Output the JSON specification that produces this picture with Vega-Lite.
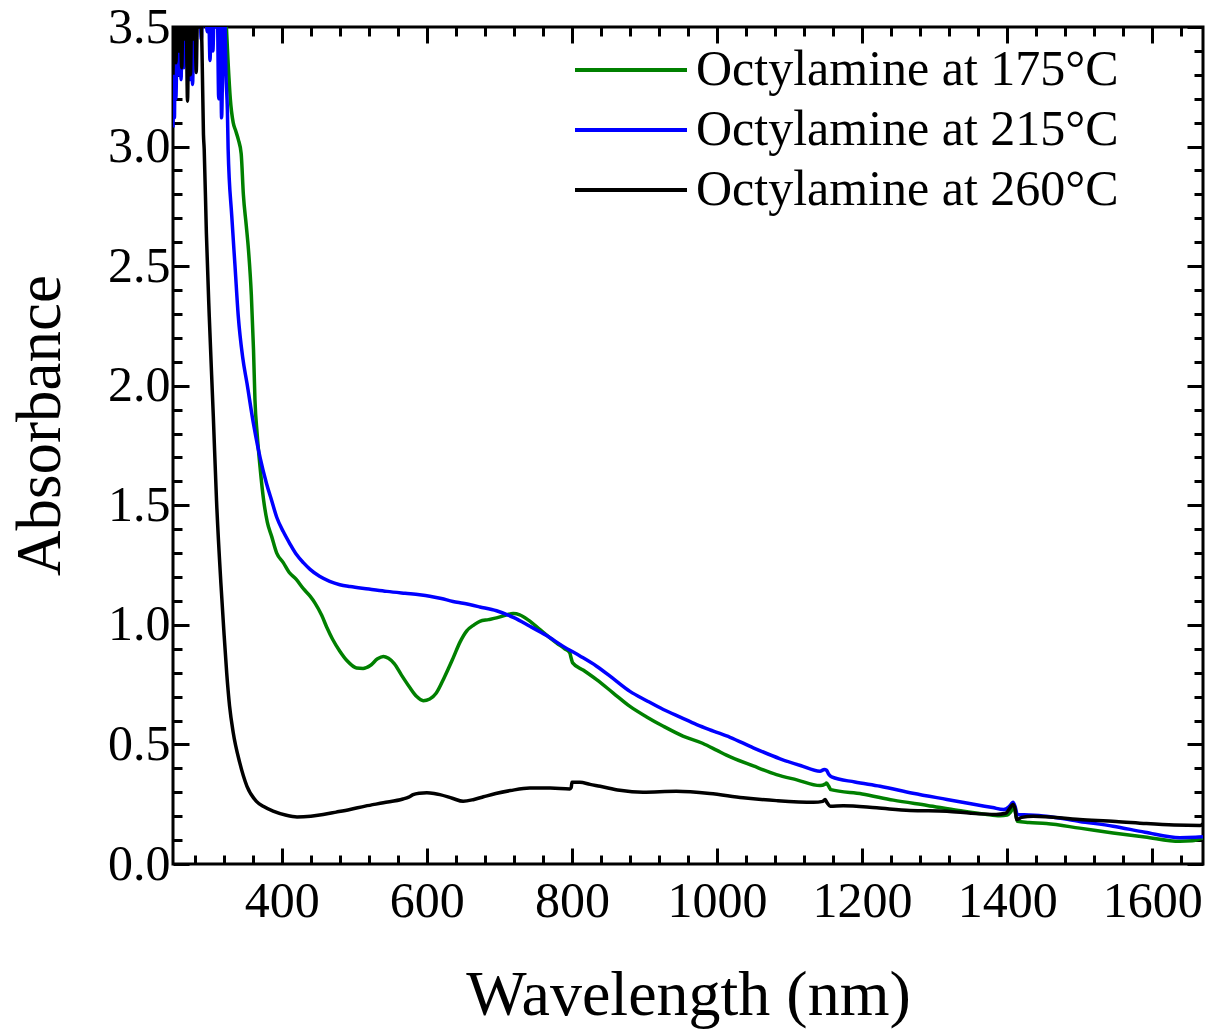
{
  "$schema": "https://vega.github.io/schema/vega-lite/v6.json",
  "autosize": {"type": "none"},
  "padding": {"left": 173, "top": 27, "right": 9, "bottom": 165},
  "width": 1030,
  "height": 837,
  "background": "white",
  "config": {
    "font": "Liberation Serif",
    "view": {"stroke": "black", "strokeWidth": 3},
    "axis": {"grid": false, "domain": false, "tickColor": "black", "tickWidth": 3, "labelColor": "black", "titleColor": "black", "labelFont": "Liberation Serif", "titleFont": "Liberation Serif", "titleFontWeight": "normal", "labelOverlap": false, "labelFlush": false, "labelBound": false}
  },
  "data": {
    "values": [
      {"s": "Octylamine at 175°C", "nm": 322, "a": 3.6},
      {"s": "Octylamine at 175°C", "nm": 326, "a": 3.35},
      {"s": "Octylamine at 175°C", "nm": 329, "a": 3.2},
      {"s": "Octylamine at 175°C", "nm": 333, "a": 3.1},
      {"s": "Octylamine at 175°C", "nm": 336, "a": 3.07},
      {"s": "Octylamine at 175°C", "nm": 340, "a": 3.03},
      {"s": "Octylamine at 175°C", "nm": 344, "a": 2.97},
      {"s": "Octylamine at 175°C", "nm": 347, "a": 2.8},
      {"s": "Octylamine at 175°C", "nm": 351, "a": 2.67},
      {"s": "Octylamine at 175°C", "nm": 354, "a": 2.57},
      {"s": "Octylamine at 175°C", "nm": 358, "a": 2.38},
      {"s": "Octylamine at 175°C", "nm": 361, "a": 2.15},
      {"s": "Octylamine at 175°C", "nm": 363, "a": 1.94},
      {"s": "Octylamine at 175°C", "nm": 366, "a": 1.8},
      {"s": "Octylamine at 175°C", "nm": 370, "a": 1.66},
      {"s": "Octylamine at 175°C", "nm": 375, "a": 1.52},
      {"s": "Octylamine at 175°C", "nm": 380, "a": 1.43},
      {"s": "Octylamine at 175°C", "nm": 386, "a": 1.37},
      {"s": "Octylamine at 175°C", "nm": 393, "a": 1.3},
      {"s": "Octylamine at 175°C", "nm": 402, "a": 1.26},
      {"s": "Octylamine at 175°C", "nm": 410, "a": 1.22},
      {"s": "Octylamine at 175°C", "nm": 420, "a": 1.19},
      {"s": "Octylamine at 175°C", "nm": 430, "a": 1.15},
      {"s": "Octylamine at 175°C", "nm": 439, "a": 1.12},
      {"s": "Octylamine at 175°C", "nm": 446, "a": 1.09},
      {"s": "Octylamine at 175°C", "nm": 455, "a": 1.04},
      {"s": "Octylamine at 175°C", "nm": 462, "a": 0.99},
      {"s": "Octylamine at 175°C", "nm": 470, "a": 0.94},
      {"s": "Octylamine at 175°C", "nm": 480, "a": 0.89},
      {"s": "Octylamine at 175°C", "nm": 490, "a": 0.85},
      {"s": "Octylamine at 175°C", "nm": 503, "a": 0.82},
      {"s": "Octylamine at 175°C", "nm": 512, "a": 0.818},
      {"s": "Octylamine at 175°C", "nm": 522, "a": 0.83},
      {"s": "Octylamine at 175°C", "nm": 532, "a": 0.858},
      {"s": "Octylamine at 175°C", "nm": 540, "a": 0.868},
      {"s": "Octylamine at 175°C", "nm": 547, "a": 0.86},
      {"s": "Octylamine at 175°C", "nm": 555, "a": 0.838},
      {"s": "Octylamine at 175°C", "nm": 565, "a": 0.79},
      {"s": "Octylamine at 175°C", "nm": 576, "a": 0.74},
      {"s": "Octylamine at 175°C", "nm": 586, "a": 0.7},
      {"s": "Octylamine at 175°C", "nm": 595, "a": 0.683},
      {"s": "Octylamine at 175°C", "nm": 604, "a": 0.69},
      {"s": "Octylamine at 175°C", "nm": 613, "a": 0.715},
      {"s": "Octylamine at 175°C", "nm": 624, "a": 0.78},
      {"s": "Octylamine at 175°C", "nm": 636, "a": 0.86},
      {"s": "Octylamine at 175°C", "nm": 646, "a": 0.93},
      {"s": "Octylamine at 175°C", "nm": 655, "a": 0.975},
      {"s": "Octylamine at 175°C", "nm": 665, "a": 1.0},
      {"s": "Octylamine at 175°C", "nm": 673, "a": 1.015},
      {"s": "Octylamine at 175°C", "nm": 685, "a": 1.022},
      {"s": "Octylamine at 175°C", "nm": 696, "a": 1.029},
      {"s": "Octylamine at 175°C", "nm": 708, "a": 1.04},
      {"s": "Octylamine at 175°C", "nm": 719, "a": 1.047},
      {"s": "Octylamine at 175°C", "nm": 728, "a": 1.042},
      {"s": "Octylamine at 175°C", "nm": 740, "a": 1.02},
      {"s": "Octylamine at 175°C", "nm": 756, "a": 0.98},
      {"s": "Octylamine at 175°C", "nm": 768, "a": 0.95},
      {"s": "Octylamine at 175°C", "nm": 779, "a": 0.924},
      {"s": "Octylamine at 175°C", "nm": 790, "a": 0.9},
      {"s": "Octylamine at 175°C", "nm": 797, "a": 0.883},
      {"s": "Octylamine at 175°C", "nm": 799, "a": 0.86},
      {"s": "Octylamine at 175°C", "nm": 801, "a": 0.841},
      {"s": "Octylamine at 175°C", "nm": 816, "a": 0.81},
      {"s": "Octylamine at 175°C", "nm": 834, "a": 0.771},
      {"s": "Octylamine at 175°C", "nm": 857, "a": 0.715},
      {"s": "Octylamine at 175°C", "nm": 880, "a": 0.659},
      {"s": "Octylamine at 175°C", "nm": 903, "a": 0.615},
      {"s": "Octylamine at 175°C", "nm": 926, "a": 0.576},
      {"s": "Octylamine at 175°C", "nm": 953, "a": 0.535},
      {"s": "Octylamine at 175°C", "nm": 980, "a": 0.505},
      {"s": "Octylamine at 175°C", "nm": 1000, "a": 0.475},
      {"s": "Octylamine at 175°C", "nm": 1013, "a": 0.455},
      {"s": "Octylamine at 175°C", "nm": 1050, "a": 0.41},
      {"s": "Octylamine at 175°C", "nm": 1082, "a": 0.374},
      {"s": "Octylamine at 175°C", "nm": 1110, "a": 0.352},
      {"s": "Octylamine at 175°C", "nm": 1142, "a": 0.328},
      {"s": "Octylamine at 175°C", "nm": 1149, "a": 0.334},
      {"s": "Octylamine at 175°C", "nm": 1151, "a": 0.339},
      {"s": "Octylamine at 175°C", "nm": 1154, "a": 0.325},
      {"s": "Octylamine at 175°C", "nm": 1157, "a": 0.311},
      {"s": "Octylamine at 175°C", "nm": 1200, "a": 0.293},
      {"s": "Octylamine at 175°C", "nm": 1243, "a": 0.267},
      {"s": "Octylamine at 175°C", "nm": 1290, "a": 0.245},
      {"s": "Octylamine at 175°C", "nm": 1333, "a": 0.224},
      {"s": "Octylamine at 175°C", "nm": 1370, "a": 0.208},
      {"s": "Octylamine at 175°C", "nm": 1390, "a": 0.202},
      {"s": "Octylamine at 175°C", "nm": 1400, "a": 0.205},
      {"s": "Octylamine at 175°C", "nm": 1405, "a": 0.218},
      {"s": "Octylamine at 175°C", "nm": 1409, "a": 0.235},
      {"s": "Octylamine at 175°C", "nm": 1411, "a": 0.22},
      {"s": "Octylamine at 175°C", "nm": 1414, "a": 0.179},
      {"s": "Octylamine at 175°C", "nm": 1430, "a": 0.174},
      {"s": "Octylamine at 175°C", "nm": 1454, "a": 0.169},
      {"s": "Octylamine at 175°C", "nm": 1500, "a": 0.15},
      {"s": "Octylamine at 175°C", "nm": 1546, "a": 0.13},
      {"s": "Octylamine at 175°C", "nm": 1590, "a": 0.113},
      {"s": "Octylamine at 175°C", "nm": 1638, "a": 0.095},
      {"s": "Octylamine at 175°C", "nm": 1655, "a": 0.097},
      {"s": "Octylamine at 175°C", "nm": 1670, "a": 0.109},

      {"s": "Octylamine at 215°C", "nm": 250, "a": 3.08},
      {"s": "Octylamine at 215°C", "nm": 251, "a": 3.45},
      {"s": "Octylamine at 215°C", "nm": 252, "a": 3.12},
      {"s": "Octylamine at 215°C", "nm": 253, "a": 3.6},
      {"s": "Octylamine at 215°C", "nm": 254, "a": 3.2},
      {"s": "Octylamine at 215°C", "nm": 256, "a": 3.55},
      {"s": "Octylamine at 215°C", "nm": 258, "a": 3.3},
      {"s": "Octylamine at 215°C", "nm": 260, "a": 3.6},
      {"s": "Octylamine at 215°C", "nm": 261, "a": 3.28},
      {"s": "Octylamine at 215°C", "nm": 263, "a": 3.55},
      {"s": "Octylamine at 215°C", "nm": 265, "a": 3.33},
      {"s": "Octylamine at 215°C", "nm": 267, "a": 3.6},
      {"s": "Octylamine at 215°C", "nm": 269, "a": 3.45},
      {"s": "Octylamine at 215°C", "nm": 271, "a": 3.6},
      {"s": "Octylamine at 215°C", "nm": 273, "a": 3.28},
      {"s": "Octylamine at 215°C", "nm": 275, "a": 3.55},
      {"s": "Octylamine at 215°C", "nm": 277, "a": 3.26},
      {"s": "Octylamine at 215°C", "nm": 279, "a": 3.6},
      {"s": "Octylamine at 215°C", "nm": 281, "a": 3.4},
      {"s": "Octylamine at 215°C", "nm": 283, "a": 3.6},
      {"s": "Octylamine at 215°C", "nm": 285, "a": 3.5},
      {"s": "Octylamine at 215°C", "nm": 287, "a": 3.6},
      {"s": "Octylamine at 215°C", "nm": 289, "a": 3.45},
      {"s": "Octylamine at 215°C", "nm": 291, "a": 3.6},
      {"s": "Octylamine at 215°C", "nm": 293, "a": 3.55},
      {"s": "Octylamine at 215°C", "nm": 295, "a": 3.6},
      {"s": "Octylamine at 215°C", "nm": 297, "a": 3.48},
      {"s": "Octylamine at 215°C", "nm": 299, "a": 3.6},
      {"s": "Octylamine at 215°C", "nm": 301, "a": 3.36},
      {"s": "Octylamine at 215°C", "nm": 303, "a": 3.6},
      {"s": "Octylamine at 215°C", "nm": 305, "a": 3.4},
      {"s": "Octylamine at 215°C", "nm": 307, "a": 3.6},
      {"s": "Octylamine at 215°C", "nm": 309, "a": 3.5},
      {"s": "Octylamine at 215°C", "nm": 311, "a": 3.6},
      {"s": "Octylamine at 215°C", "nm": 313, "a": 3.2},
      {"s": "Octylamine at 215°C", "nm": 315, "a": 3.6},
      {"s": "Octylamine at 215°C", "nm": 317, "a": 3.12},
      {"s": "Octylamine at 215°C", "nm": 319, "a": 3.45},
      {"s": "Octylamine at 215°C", "nm": 321, "a": 3.6},
      {"s": "Octylamine at 215°C", "nm": 323, "a": 3.3},
      {"s": "Octylamine at 215°C", "nm": 325, "a": 3.15},
      {"s": "Octylamine at 215°C", "nm": 326, "a": 2.99},
      {"s": "Octylamine at 215°C", "nm": 331, "a": 2.71},
      {"s": "Octylamine at 215°C", "nm": 335.5, "a": 2.5},
      {"s": "Octylamine at 215°C", "nm": 340, "a": 2.29},
      {"s": "Octylamine at 215°C", "nm": 346, "a": 2.12},
      {"s": "Octylamine at 215°C", "nm": 352, "a": 2.01},
      {"s": "Octylamine at 215°C", "nm": 361, "a": 1.84},
      {"s": "Octylamine at 215°C", "nm": 370, "a": 1.7},
      {"s": "Octylamine at 215°C", "nm": 379, "a": 1.59},
      {"s": "Octylamine at 215°C", "nm": 386, "a": 1.52},
      {"s": "Octylamine at 215°C", "nm": 393, "a": 1.45},
      {"s": "Octylamine at 215°C", "nm": 402, "a": 1.39},
      {"s": "Octylamine at 215°C", "nm": 411, "a": 1.34},
      {"s": "Octylamine at 215°C", "nm": 420, "a": 1.295},
      {"s": "Octylamine at 215°C", "nm": 430, "a": 1.259},
      {"s": "Octylamine at 215°C", "nm": 439, "a": 1.232},
      {"s": "Octylamine at 215°C", "nm": 452, "a": 1.203},
      {"s": "Octylamine at 215°C", "nm": 466, "a": 1.182},
      {"s": "Octylamine at 215°C", "nm": 480, "a": 1.168},
      {"s": "Octylamine at 215°C", "nm": 494, "a": 1.16},
      {"s": "Octylamine at 215°C", "nm": 520, "a": 1.15},
      {"s": "Octylamine at 215°C", "nm": 545, "a": 1.14},
      {"s": "Octylamine at 215°C", "nm": 570, "a": 1.132},
      {"s": "Octylamine at 215°C", "nm": 590, "a": 1.126},
      {"s": "Octylamine at 215°C", "nm": 604, "a": 1.12},
      {"s": "Octylamine at 215°C", "nm": 620, "a": 1.11},
      {"s": "Octylamine at 215°C", "nm": 636, "a": 1.098},
      {"s": "Octylamine at 215°C", "nm": 650, "a": 1.09},
      {"s": "Octylamine at 215°C", "nm": 673, "a": 1.075},
      {"s": "Octylamine at 215°C", "nm": 696, "a": 1.059},
      {"s": "Octylamine at 215°C", "nm": 720, "a": 1.03},
      {"s": "Octylamine at 215°C", "nm": 742, "a": 0.994},
      {"s": "Octylamine at 215°C", "nm": 765, "a": 0.955},
      {"s": "Octylamine at 215°C", "nm": 788, "a": 0.91},
      {"s": "Octylamine at 215°C", "nm": 811, "a": 0.87},
      {"s": "Octylamine at 215°C", "nm": 834, "a": 0.827},
      {"s": "Octylamine at 215°C", "nm": 857, "a": 0.775},
      {"s": "Octylamine at 215°C", "nm": 880, "a": 0.722},
      {"s": "Octylamine at 215°C", "nm": 903, "a": 0.683},
      {"s": "Octylamine at 215°C", "nm": 926, "a": 0.646},
      {"s": "Octylamine at 215°C", "nm": 950, "a": 0.613},
      {"s": "Octylamine at 215°C", "nm": 972, "a": 0.583},
      {"s": "Octylamine at 215°C", "nm": 995, "a": 0.556},
      {"s": "Octylamine at 215°C", "nm": 1018, "a": 0.53},
      {"s": "Octylamine at 215°C", "nm": 1050, "a": 0.486},
      {"s": "Octylamine at 215°C", "nm": 1087, "a": 0.44},
      {"s": "Octylamine at 215°C", "nm": 1115, "a": 0.412},
      {"s": "Octylamine at 215°C", "nm": 1142, "a": 0.388},
      {"s": "Octylamine at 215°C", "nm": 1148, "a": 0.395},
      {"s": "Octylamine at 215°C", "nm": 1151, "a": 0.392},
      {"s": "Octylamine at 215°C", "nm": 1154, "a": 0.375},
      {"s": "Octylamine at 215°C", "nm": 1158, "a": 0.364},
      {"s": "Octylamine at 215°C", "nm": 1190, "a": 0.343},
      {"s": "Octylamine at 215°C", "nm": 1225, "a": 0.325},
      {"s": "Octylamine at 215°C", "nm": 1270, "a": 0.296},
      {"s": "Octylamine at 215°C", "nm": 1317, "a": 0.27},
      {"s": "Octylamine at 215°C", "nm": 1350, "a": 0.252},
      {"s": "Octylamine at 215°C", "nm": 1380, "a": 0.236},
      {"s": "Octylamine at 215°C", "nm": 1395, "a": 0.228},
      {"s": "Octylamine at 215°C", "nm": 1402, "a": 0.238},
      {"s": "Octylamine at 215°C", "nm": 1406, "a": 0.252},
      {"s": "Octylamine at 215°C", "nm": 1408, "a": 0.258},
      {"s": "Octylamine at 215°C", "nm": 1411, "a": 0.24},
      {"s": "Octylamine at 215°C", "nm": 1414, "a": 0.207},
      {"s": "Octylamine at 215°C", "nm": 1430, "a": 0.205},
      {"s": "Octylamine at 215°C", "nm": 1454, "a": 0.2},
      {"s": "Octylamine at 215°C", "nm": 1500, "a": 0.178},
      {"s": "Octylamine at 215°C", "nm": 1546, "a": 0.158},
      {"s": "Octylamine at 215°C", "nm": 1590, "a": 0.133},
      {"s": "Octylamine at 215°C", "nm": 1638, "a": 0.11},
      {"s": "Octylamine at 215°C", "nm": 1660, "a": 0.112},
      {"s": "Octylamine at 215°C", "nm": 1670, "a": 0.114},

      {"s": "Octylamine at 260°C", "nm": 250, "a": 3.3},
      {"s": "Octylamine at 260°C", "nm": 252, "a": 3.6},
      {"s": "Octylamine at 260°C", "nm": 254, "a": 3.35},
      {"s": "Octylamine at 260°C", "nm": 256, "a": 3.6},
      {"s": "Octylamine at 260°C", "nm": 258, "a": 3.4},
      {"s": "Octylamine at 260°C", "nm": 260, "a": 3.6},
      {"s": "Octylamine at 260°C", "nm": 262, "a": 3.33},
      {"s": "Octylamine at 260°C", "nm": 264, "a": 3.6},
      {"s": "Octylamine at 260°C", "nm": 266, "a": 3.45},
      {"s": "Octylamine at 260°C", "nm": 268, "a": 3.6},
      {"s": "Octylamine at 260°C", "nm": 270, "a": 3.19},
      {"s": "Octylamine at 260°C", "nm": 272, "a": 3.6},
      {"s": "Octylamine at 260°C", "nm": 274, "a": 3.3},
      {"s": "Octylamine at 260°C", "nm": 276, "a": 3.6},
      {"s": "Octylamine at 260°C", "nm": 278, "a": 3.45},
      {"s": "Octylamine at 260°C", "nm": 280, "a": 3.6},
      {"s": "Octylamine at 260°C", "nm": 282, "a": 3.31},
      {"s": "Octylamine at 260°C", "nm": 284, "a": 3.6},
      {"s": "Octylamine at 260°C", "nm": 286, "a": 3.5},
      {"s": "Octylamine at 260°C", "nm": 288, "a": 3.6},
      {"s": "Octylamine at 260°C", "nm": 290, "a": 3.4},
      {"s": "Octylamine at 260°C", "nm": 292, "a": 3.05},
      {"s": "Octylamine at 260°C", "nm": 293, "a": 2.99},
      {"s": "Octylamine at 260°C", "nm": 296, "a": 2.64},
      {"s": "Octylamine at 260°C", "nm": 300, "a": 2.29},
      {"s": "Octylamine at 260°C", "nm": 305.6, "a": 1.87},
      {"s": "Octylamine at 260°C", "nm": 310, "a": 1.52},
      {"s": "Octylamine at 260°C", "nm": 316, "a": 1.175},
      {"s": "Octylamine at 260°C", "nm": 320, "a": 0.98},
      {"s": "Octylamine at 260°C", "nm": 324, "a": 0.8},
      {"s": "Octylamine at 260°C", "nm": 328, "a": 0.66},
      {"s": "Octylamine at 260°C", "nm": 333, "a": 0.55},
      {"s": "Octylamine at 260°C", "nm": 342, "a": 0.424},
      {"s": "Octylamine at 260°C", "nm": 352, "a": 0.325},
      {"s": "Octylamine at 260°C", "nm": 365, "a": 0.262},
      {"s": "Octylamine at 260°C", "nm": 375, "a": 0.24},
      {"s": "Octylamine at 260°C", "nm": 388, "a": 0.221},
      {"s": "Octylamine at 260°C", "nm": 405, "a": 0.205},
      {"s": "Octylamine at 260°C", "nm": 421, "a": 0.197},
      {"s": "Octylamine at 260°C", "nm": 440, "a": 0.2},
      {"s": "Octylamine at 260°C", "nm": 457, "a": 0.207},
      {"s": "Octylamine at 260°C", "nm": 475, "a": 0.217},
      {"s": "Octylamine at 260°C", "nm": 494, "a": 0.228},
      {"s": "Octylamine at 260°C", "nm": 515, "a": 0.242},
      {"s": "Octylamine at 260°C", "nm": 540, "a": 0.256},
      {"s": "Octylamine at 260°C", "nm": 567, "a": 0.272},
      {"s": "Octylamine at 260°C", "nm": 575, "a": 0.28},
      {"s": "Octylamine at 260°C", "nm": 581, "a": 0.29},
      {"s": "Octylamine at 260°C", "nm": 590, "a": 0.296},
      {"s": "Octylamine at 260°C", "nm": 600, "a": 0.298},
      {"s": "Octylamine at 260°C", "nm": 610, "a": 0.295},
      {"s": "Octylamine at 260°C", "nm": 618, "a": 0.29},
      {"s": "Octylamine at 260°C", "nm": 635, "a": 0.275},
      {"s": "Octylamine at 260°C", "nm": 650, "a": 0.262},
      {"s": "Octylamine at 260°C", "nm": 665, "a": 0.27},
      {"s": "Octylamine at 260°C", "nm": 678, "a": 0.281},
      {"s": "Octylamine at 260°C", "nm": 695, "a": 0.295},
      {"s": "Octylamine at 260°C", "nm": 715, "a": 0.307},
      {"s": "Octylamine at 260°C", "nm": 742, "a": 0.318},
      {"s": "Octylamine at 260°C", "nm": 770, "a": 0.318},
      {"s": "Octylamine at 260°C", "nm": 797, "a": 0.314},
      {"s": "Octylamine at 260°C", "nm": 799, "a": 0.32},
      {"s": "Octylamine at 260°C", "nm": 800, "a": 0.342},
      {"s": "Octylamine at 260°C", "nm": 811, "a": 0.342},
      {"s": "Octylamine at 260°C", "nm": 825, "a": 0.333},
      {"s": "Octylamine at 260°C", "nm": 839, "a": 0.325},
      {"s": "Octylamine at 260°C", "nm": 866, "a": 0.308},
      {"s": "Octylamine at 260°C", "nm": 898, "a": 0.3},
      {"s": "Octylamine at 260°C", "nm": 944, "a": 0.304},
      {"s": "Octylamine at 260°C", "nm": 990, "a": 0.295},
      {"s": "Octylamine at 260°C", "nm": 1036, "a": 0.277},
      {"s": "Octylamine at 260°C", "nm": 1082, "a": 0.265},
      {"s": "Octylamine at 260°C", "nm": 1133, "a": 0.258},
      {"s": "Octylamine at 260°C", "nm": 1146, "a": 0.262},
      {"s": "Octylamine at 260°C", "nm": 1149, "a": 0.27},
      {"s": "Octylamine at 260°C", "nm": 1152, "a": 0.255},
      {"s": "Octylamine at 260°C", "nm": 1156, "a": 0.242},
      {"s": "Octylamine at 260°C", "nm": 1174, "a": 0.244},
      {"s": "Octylamine at 260°C", "nm": 1220, "a": 0.235},
      {"s": "Octylamine at 260°C", "nm": 1266, "a": 0.224},
      {"s": "Octylamine at 260°C", "nm": 1317, "a": 0.221},
      {"s": "Octylamine at 260°C", "nm": 1350, "a": 0.212},
      {"s": "Octylamine at 260°C", "nm": 1385, "a": 0.207},
      {"s": "Octylamine at 260°C", "nm": 1398, "a": 0.212},
      {"s": "Octylamine at 260°C", "nm": 1404, "a": 0.235},
      {"s": "Octylamine at 260°C", "nm": 1408, "a": 0.249},
      {"s": "Octylamine at 260°C", "nm": 1411, "a": 0.23},
      {"s": "Octylamine at 260°C", "nm": 1413, "a": 0.186},
      {"s": "Octylamine at 260°C", "nm": 1420, "a": 0.195},
      {"s": "Octylamine at 260°C", "nm": 1436, "a": 0.2},
      {"s": "Octylamine at 260°C", "nm": 1500, "a": 0.186},
      {"s": "Octylamine at 260°C", "nm": 1550, "a": 0.178},
      {"s": "Octylamine at 260°C", "nm": 1592, "a": 0.169},
      {"s": "Octylamine at 260°C", "nm": 1630, "a": 0.163},
      {"s": "Octylamine at 260°C", "nm": 1666, "a": 0.161},
      {"s": "Octylamine at 260°C", "nm": 1670, "a": 0.168}
    ]
  },
  "resolve": {"axis": {"x": "independent", "y": "independent"}},
  "layer": [
    {
      "mark": {"type": "line", "clip": true, "strokeWidth": 3.5, "strokeJoin": "round", "interpolate": "monotone"},
      "encoding": {
        "x": {"field": "nm", "type": "quantitative",
              "scale": {"domain": [250, 1670], "nice": false, "zero": false},
              "axis": {"orient": "bottom", "values": [400, 600, 800, 1000, 1200, 1400, 1600], "format": "d", "tickSize": -16, "labelFontSize": 50, "labelPadding": 28, "title": "Wavelength (nm)", "titleFontSize": 64, "titleBaseline": "alphabetic", "titleY": 150}},
        "y": {"field": "a", "type": "quantitative",
              "scale": {"domain": [0, 3.5], "nice": false, "zero": false},
              "axis": {"orient": "left", "values": [0, 0.5, 1, 1.5, 2, 2.5, 3, 3.5], "format": ".1f", "tickSize": -16, "labelFontSize": 50, "labelPadding": 19, "title": "Absorbance", "titleFontSize": 63, "titleBaseline": "alphabetic", "titleX": -114, "titleY": 398}},
        "color": {"field": "s", "type": "nominal",
                  "scale": {"domain": ["Octylamine at 175°C", "Octylamine at 215°C", "Octylamine at 260°C"], "range": ["#008000", "#0000ff", "#000000"]},
                  "legend": {"title": null, "orient": "none", "legendX": 433, "legendY": 18, "symbolType": "M-7,0H7", "symbolSize": 256, "symbolStrokeWidth": 4, "labelFontSize": 50, "labelFont": "Liberation Serif", "labelColor": "black", "labelLimit": 0, "padding": 0, "rowPadding": 10, "labelOffset": 40}}
      }
    },
    {
      "mark": {"type": "line", "opacity": 0},
      "encoding": {
        "x": {"field": "nm", "type": "quantitative",
              "scale": {"domain": [250, 1670], "nice": false, "zero": false},
              "axis": {"orient": "bottom", "values": [280, 320, 360, 440, 480, 520, 560, 640, 680, 720, 760, 840, 880, 920, 960, 1040, 1080, 1120, 1160, 1240, 1280, 1320, 1360, 1440, 1480, 1520, 1560, 1640], "tickSize": -9, "labels": false, "title": null}},
        "y": {"field": "a", "type": "quantitative",
              "scale": {"domain": [0, 3.5], "nice": false, "zero": false},
              "axis": {"orient": "left", "values": [0.1, 0.2, 0.3, 0.4, 0.6, 0.7, 0.8, 0.9, 1.1, 1.2, 1.3, 1.4, 1.6, 1.7, 1.8, 1.9, 2.1, 2.2, 2.3, 2.4, 2.6, 2.7, 2.8, 2.9, 3.1, 3.2, 3.3, 3.4], "tickSize": -9, "labels": false, "title": null}}
      }
    },
    {
      "mark": {"type": "line", "opacity": 0},
      "encoding": {
        "x": {"field": "nm", "type": "quantitative",
              "scale": {"domain": [250, 1670], "nice": false, "zero": false},
              "axis": {"orient": "top", "values": [400, 600, 800, 1000, 1200, 1400, 1600], "tickSize": -16, "labels": false, "title": null}},
        "y": {"field": "a", "type": "quantitative",
              "scale": {"domain": [0, 3.5], "nice": false, "zero": false},
              "axis": {"orient": "right", "values": [0, 0.5, 1, 1.5, 2, 2.5, 3, 3.5], "tickSize": -16, "labels": false, "title": null}}
      }
    },
    {
      "mark": {"type": "line", "opacity": 0},
      "encoding": {
        "x": {"field": "nm", "type": "quantitative",
              "scale": {"domain": [250, 1670], "nice": false, "zero": false},
              "axis": {"orient": "top", "values": [280, 320, 360, 440, 480, 520, 560, 640, 680, 720, 760, 840, 880, 920, 960, 1040, 1080, 1120, 1160, 1240, 1280, 1320, 1360, 1440, 1480, 1520, 1560, 1640], "tickSize": -9, "labels": false, "title": null}},
        "y": {"field": "a", "type": "quantitative",
              "scale": {"domain": [0, 3.5], "nice": false, "zero": false},
              "axis": {"orient": "right", "values": [0.1, 0.2, 0.3, 0.4, 0.6, 0.7, 0.8, 0.9, 1.1, 1.2, 1.3, 1.4, 1.6, 1.7, 1.8, 1.9, 2.1, 2.2, 2.3, 2.4, 2.6, 2.7, 2.8, 2.9, 3.1, 3.2, 3.3, 3.4], "tickSize": -9, "labels": false, "title": null}}
      }
    }
  ]
}
